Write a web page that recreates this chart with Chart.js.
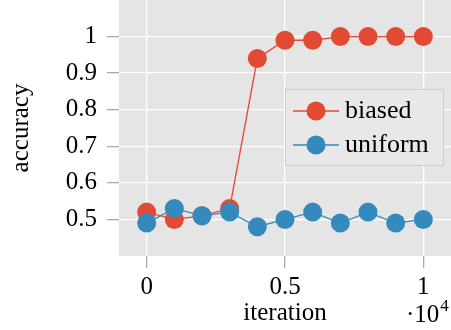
<!DOCTYPE html>
<html>
<head>
<meta charset="utf-8">
<script src="https://cdn.jsdelivr.net/npm/chart.js@4"></script>
<style>
  body { margin: 0; background: #ffffff; }
  canvas { display: block; }
</style>
</head>
<body>
<canvas id="accchart" width="451" height="330"></canvas>
<script>
// data
const iterations = [0, 1000, 2000, 3000, 4000, 5000, 6000, 7000, 8000, 9000, 10000];
const biased = [0.52, 0.50, 0.51, 0.53, 0.94, 0.99, 0.99, 1.00, 1.00, 1.00, 1.00];
const uniform = [0.49, 0.53, 0.51, 0.52, 0.48, 0.50, 0.52, 0.49, 0.52, 0.49, 0.50];
const xTicks = [0, 5000, 10000];
const yTicks = [0.5, 0.6, 0.7, 0.8, 0.9, 1.0];
const xExponent = 4;

const red = "#e24a33";
const blue = "#348abd";
const serif = "'Liberation Serif', 'DejaVu Serif', serif";

function points(ys) {
    return iterations.map((x, i) => ({ x: x, y: ys[i] }));
}

// gray panel behind the plot
const panelBg = {
    id: "panelBg",
    beforeDraw(chart) {
        const a = chart.chartArea;
        const ctx = chart.ctx;
        ctx.save();
        ctx.fillStyle = "#e5e5e5";
        ctx.fillRect(a.left, a.top, a.right - a.left, a.bottom - a.top);
        ctx.restore();
    }
};

// legend box inside the plot + the x10^4 multiplier
const extras = {
    id: "extras",
    afterDraw(chart) {
        const ctx = chart.ctx;
        ctx.save();
        ctx.fillStyle = "#e8e8e8";
        ctx.strokeStyle = "#cccccc";
        ctx.lineWidth = 1;
        ctx.fillRect(285, 89, 159, 77);
        ctx.strokeRect(285.5, 89.5, 158, 76);

        const shown = ["biased", "uniform"];
        shown.forEach((name, i) => {
            const ds = chart.data.datasets.find(d => d.label === name);
            const y = 111 + i * 34;
            ctx.strokeStyle = ds.borderColor;
            ctx.lineWidth = ds.borderWidth;
            ctx.beginPath();
            ctx.moveTo(293, y);
            ctx.lineTo(339, y);
            ctx.stroke();
            ctx.fillStyle = ds.pointBackgroundColor;
            ctx.beginPath();
            ctx.arc(316, y, ds.pointRadius, 0, Math.PI * 2);
            ctx.fill();
            ctx.fillStyle = "#000000";
            ctx.font = "26px " + serif;
            ctx.textAlign = "left";
            ctx.textBaseline = "middle";
            ctx.fillText(ds.label, 345, y);
        });

        ctx.fillStyle = "#000000";
        ctx.textAlign = "left";
        ctx.textBaseline = "alphabetic";
        ctx.font = "25px " + serif;
        ctx.fillText("\u00b710", 406, 322);
        const w = ctx.measureText("\u00b710").width;
        ctx.font = "17px " + serif;
        ctx.fillText(String(xExponent), 406 + w + 1, 311);
        ctx.restore();
    }
};

new Chart(document.getElementById("accchart").getContext("2d"), {
    type: "line",
    data: {
        datasets: [{
            label: "biased",
            data: points(biased),
            borderColor: red,
            backgroundColor: red,
            pointBackgroundColor: red,
            borderWidth: 1.3,
            pointRadius: 9.5,
            pointBorderWidth: 0,
            order: 1
        }, {
            label: "uniform",
            data: points(uniform),
            borderColor: blue,
            backgroundColor: blue,
            pointBackgroundColor: blue,
            borderWidth: 1.3,
            pointRadius: 9.5,
            pointBorderWidth: 0,
            order: 0
        }]
    },
    options: {
        responsive: false,
        animation: false,
        devicePixelRatio: 1,
        layout: { padding: 0, autoPadding: false },
        plugins: {
            legend: { display: false },
            tooltip: { enabled: false }
        },
        scales: {
            x: {
                type: "linear",
                min: -1000,
                max: 11000,
                afterBuildTicks: (scale) => { scale.ticks = xTicks.map(v => ({ value: v })); },
                afterFit: (scale) => { scale.height = 74; scale.paddingLeft = 0; scale.paddingRight = 0; },
                border: { display: false },
                grid: {
                    color: "#ffffff",
                    lineWidth: 1.3,
                    tickColor: "#aaaaaa",
                    tickWidth: 1.3,
                    tickLength: 12
                },
                ticks: {
                    color: "#000000",
                    font: { family: serif, size: 25 },
                    padding: 4,
                    maxRotation: 0,
                    callback: (v) => String(v / Math.pow(10, xExponent))
                },
                title: {
                    display: true,
                    text: "iteration",
                    color: "#000000",
                    font: { family: serif, size: 25, lineHeight: 1.2 },
                    padding: { top: 0, bottom: 2 }
                }
            },
            y: {
                min: 0.4,
                max: 1.1,
                afterBuildTicks: (scale) => { scale.ticks = yTicks.map(v => ({ value: v })); },
                afterFit: (scale) => { scale.width = 119; scale.paddingTop = 0; scale.paddingBottom = 0; },
                border: { display: false },
                grid: {
                    color: "#ffffff",
                    lineWidth: 1.3,
                    tickColor: "#aaaaaa",
                    tickWidth: 1.3,
                    tickLength: 12
                },
                ticks: {
                    color: "#000000",
                    font: { family: serif, size: 25 },
                    padding: 10,
                    callback: (v) => String(v)
                },
                title: {
                    display: true,
                    text: "accuracy",
                    color: "#000000",
                    font: { family: serif, size: 25, lineHeight: 1.2 },
                    padding: { top: 6, bottom: 0 }
                }
            }
        }
    },
    plugins: [panelBg, extras]
});
</script>
</body>
</html>
